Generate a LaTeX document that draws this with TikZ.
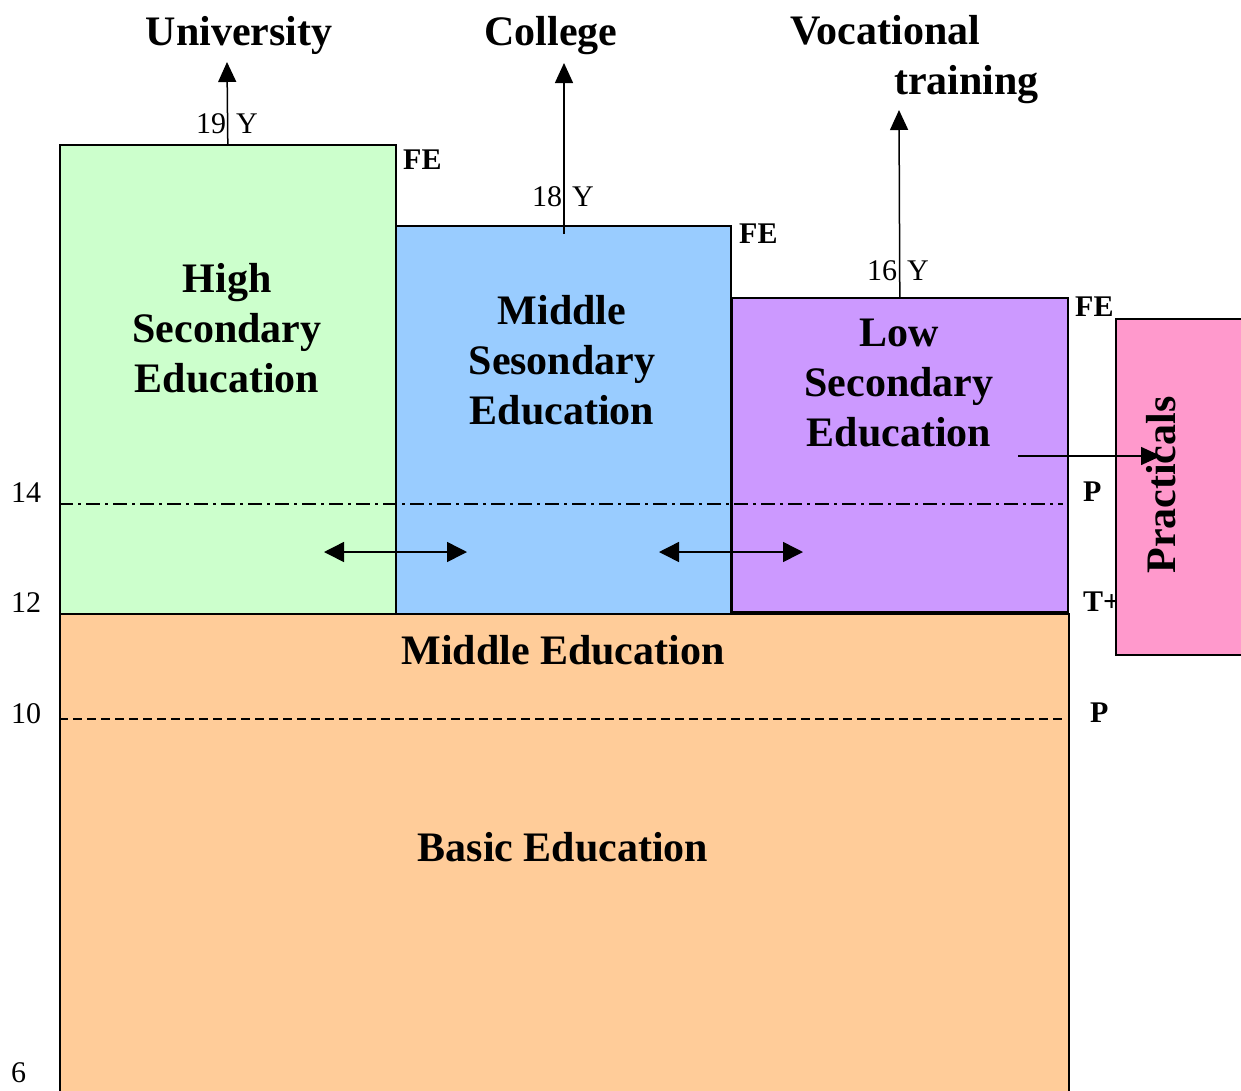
\documentclass[tikz,border=0pt]{standalone}
\usepackage{fontspec}
\setmainfont{Liberation Serif}
\usetikzlibrary{arrows.meta}
\definecolor{greenC}{HTML}{CCFFCC}
\definecolor{blueC}{HTML}{99CCFF}
\definecolor{purpleC}{HTML}{CC99FF}
\definecolor{orangeC}{HTML}{FFCC99}
\definecolor{pinkC}{HTML}{FF99CC}
\begin{document}
\begin{tikzpicture}[x=1pt,y=-1pt,
  box/.style={draw=black,line width=1.6pt,inner sep=0pt,anchor=north west},
  big/.style={font=\fontsize{42}{50}\selectfont\bfseries,align=center,inner sep=0pt},
  small/.style={font=\fontsize{30}{30}\selectfont,inner sep=0pt,anchor=base},
  fe/.style={font=\fontsize{30}{30}\selectfont\bfseries,inner sep=0pt,anchor=base west},
  arr/.style={line width=1.5pt,-{Triangle[length=20pt,width=18pt]}},
  darr/.style={line width=1.5pt,{Triangle[length=20pt,width=20pt]}-{Triangle[length=20pt,width=20pt]}}]
\useasboundingbox (0,0) rectangle (1241,1090);

% boxes
\node[box,fill=orangeC,minimum width=1009pt,minimum height=500pt] (basic) at (59,613) {};
\node[box,fill=greenC,minimum width=336pt,minimum height=469pt] (hs) at (59,144) {};
\node[box,fill=blueC,minimum width=335pt,minimum height=388pt] (ms) at (395,225) {};
\node[box,fill=purpleC,minimum width=336pt,minimum height=314pt] (ls) at (731,297) {};

% level lines
\coordinate (dd1) at (59,504);
\coordinate (dd2) at (1063,504);
\draw[line width=1.2pt,dash pattern=on 14pt off 5pt on 3pt off 5pt] (dd1) -- (dd2);
\coordinate (ds1) at (59,719);
\coordinate (ds2) at (1063,719);
\draw[line width=1.2pt,dash pattern=on 9pt off 5pt] (ds1) -- (ds2);

% box titles
\node[big] (hsT) at (227,328) {High\\Secondary\\Education};
\node[big] (msT) at (562,360) {Middle\\Sesondary\\Education};
\node[big] (lsT) at (899,383) {Low\\Secondary\\Education};
\node[big,anchor=base] (meT) at (563,664) {Middle Education};
\node[big,anchor=base] (beT) at (563,861) {Basic Education};

% destinations
\node[big,anchor=base] (univ) at (239,45) {University};
\node[big,anchor=base] (coll) at (551,45) {College};
\node[big,anchor=base west] (voc) at (790,44) {Vocational};
\node[big,anchor=base east] (train) at (1039,94) {training};

% upward arrows
\coordinate (uTip) at (227,62);
\draw[arr] (hs.north) -- (uTip);
\coordinate (cStart) at (564,234);
\coordinate (cTip) at (564,63);
\draw[arr] (cStart) -- (cTip);
\coordinate (vTip) at (899,110);
\draw[arr] (ls.north) -- (vTip);

% age labels
\node[small] (y19) at (227,133) {19\,\,Y};
\node[small] (y18) at (563,206) {18\,\,Y};
\node[small] (y16) at (898,280) {16\,\,Y};

% FE labels
\node[fe] (fe1) at (403,169) {FE};
\node[fe] (fe2) at (739,243) {FE};
\node[fe] (fe3) at (1075,316) {FE};
\node[fe] (p1) at (1083,501) {P};
\node[fe] (tp) at (1083,611) {T+};
\node[fe] (p2) at (1090,722) {P};

% left scale
\node[small,anchor=base west] (n14) at (11,502) {14};
\node[small,anchor=base west] (n12) at (11,612) {12};
\node[small,anchor=base west] (n10) at (11,723) {10};
\node[small,anchor=base west] (n6) at (11,1082) {6};

% practicals
\node[box,fill=pinkC,minimum width=140pt,minimum height=336pt] (prac) at (1115,318) {};
\node[big,rotate=90] (pracT) at (1161,485) {Practicals};
\coordinate (pStart) at (1018,456);
\coordinate (pTip) at (1161,456);
\draw[arr] (pStart) -- (pTip);

% transfer arrows
\coordinate (a1) at (324,552);
\coordinate (a2) at (467,552);
\draw[darr] (a1) -- (a2);
\coordinate (b1) at (659,552);
\coordinate (b2) at (803,552);
\draw[darr] (b1) -- (b2);
\end{tikzpicture}
\end{document}
